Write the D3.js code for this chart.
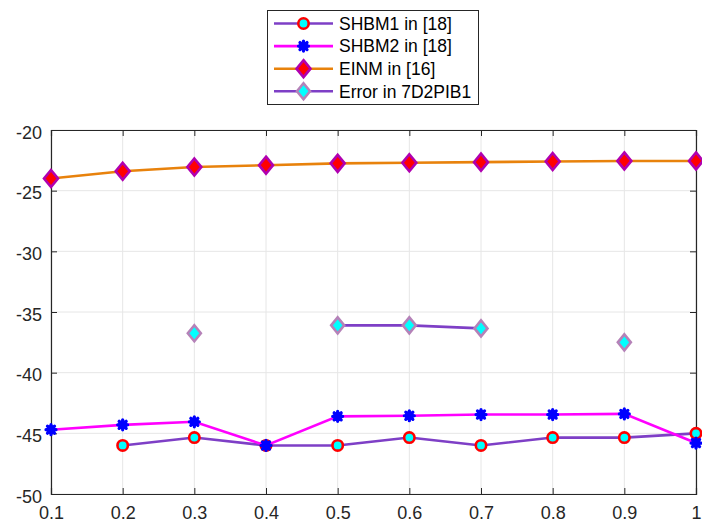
<!DOCTYPE html>
<html>
<head>
<meta charset="utf-8">
<script src="https://cdn.jsdelivr.net/npm/d3@7"></script>
<style>
  body { margin: 0; background: #fff; }
  svg { display: block; font-family: "Liberation Sans", Arial, sans-serif; }
</style>
</head>
<body>
<svg id="chart" width="702" height="524"></svg>
<script>
// x positions
const xValues = [0.1, 0.2, 0.3, 0.4, 0.5, 0.6, 0.7, 0.8, 0.9, 1];
const xTickLabels = ["0.1", "0.2", "0.3", "0.4", "0.5", "0.6", "0.7", "0.8", "0.9", "1"];
const yTicks = [-50, -45, -40, -35, -30, -25, -20];

// series (null = no point)
const shbm1 = [null, -46.0, -45.35, -46.0, -46.0, -45.35, -46.0, -45.35, -45.35, -45.0];
const shbm2 = [-44.7, -44.3, -44.05, -46.0, -43.6, -43.55, -43.45, -43.45, -43.4, -45.8];
const einm = [-24.0, -23.4, -23.05, -22.9, -22.75, -22.7, -22.65, -22.6, -22.55, -22.55];
const errorPib = [null, null, -36.75, null, -36.1, -36.1, -36.35, null, -37.5, null];

const seriesNames = ["SHBM1 in [18]", "SHBM2 in [18]", "EINM in [16]", "Error in 7D2PIB1"];

const svg = d3.select("#chart");
const margin = { left: 51, right: 6, top: 130, bottom: 30 };
const width = 702, height = 524;

const x = d3.scaleLinear().domain([0.1, 1]).range([margin.left, width - margin.right]);
const y = d3.scaleLinear().domain([-50, -20]).range([height - margin.bottom, margin.top]);

const axisColor = "#262626";
const gridColor = "#e6e6e6";

// grid
const grid = svg.append("g");
grid.selectAll(".gx").data(xValues).enter().append("line")
    .attr("x1", d => x(d)).attr("x2", d => x(d))
    .attr("y1", y(-50)).attr("y2", y(-20))
    .attr("stroke", gridColor).attr("stroke-width", 1);
grid.selectAll(".gy").data(yTicks).enter().append("line")
    .attr("x1", x(0.1)).attr("x2", x(1))
    .attr("y1", d => y(d)).attr("y2", d => y(d))
    .attr("stroke", gridColor).attr("stroke-width", 1);

// axes
const xAxis = d3.axisBottom(x).tickValues(xValues).tickSize(-6).tickPadding(12)
    .tickFormat((d, i) => xTickLabels[i]);
const yAxis = d3.axisLeft(y).tickValues(yTicks).tickSize(-6).tickPadding(9)
    .tickFormat(d => String(d));

const gx = svg.append("g").attr("transform", `translate(0,${y(-50)})`).call(xAxis);
const gy = svg.append("g").attr("transform", `translate(${x(0.1)},0)`).call(yAxis);
const gxTop = svg.append("g").attr("transform", `translate(0,${y(-20)})`)
    .call(d3.axisTop(x).tickValues(xValues).tickSize(-6).tickFormat(""));
const gyRight = svg.append("g").attr("transform", `translate(${x(1)},0)`)
    .call(d3.axisRight(y).tickValues(yTicks).tickSize(-6).tickFormat(""));

[gx, gy, gxTop, gyRight].forEach(g => {
  g.select(".domain").attr("stroke", axisColor).attr("stroke-width", 1.2);
  g.selectAll(".tick line").attr("stroke", axisColor).attr("stroke-width", 1);
  g.selectAll(".tick text").attr("fill", axisColor).style("font-size", "18px")
      .style("font-family", "'Liberation Sans', Arial, sans-serif");
});
gy.selectAll(".tick text").attr("dy", "0.45em");

// markers
function circleMarker(g, cx, cy) {
  g.append("circle").attr("cx", cx).attr("cy", cy).attr("r", 5.2)
      .attr("fill", "#00ffff").attr("stroke", "#ff0000").attr("stroke-width", 2.6);
}
function starMarker(g, cx, cy) {
  const r = 5;
  const path = d3.range(4).map(k => {
    const a = k * Math.PI / 4;
    return `M${cx - r * Math.cos(a)},${cy - r * Math.sin(a)}L${cx + r * Math.cos(a)},${cy + r * Math.sin(a)}`;
  }).join("");
  g.append("circle").attr("cx", cx).attr("cy", cy).attr("r", 4.6).attr("fill", "#0000ff");
  g.append("path").attr("d", path).attr("stroke", "#0000ff").attr("stroke-width", 3.2)
      .attr("stroke-linecap", "round");
}
function diamondMarker(edge, fill, hw, hh) {
  return (g, cx, cy) => {
    g.append("path")
        .attr("d", `M${cx},${cy - hh}L${cx + hw},${cy}L${cx},${cy + hh}L${cx - hw},${cy}Z`)
        .attr("fill", fill).attr("stroke", edge).attr("stroke-width", 2.6)
        .attr("stroke-linejoin", "miter");
  };
}

const series = [
  { name: seriesNames[0], values: shbm1, line: "#7e3fc6", marker: circleMarker },
  { name: seriesNames[1], values: shbm2, line: "#ff00ff", marker: starMarker },
  { name: seriesNames[2], values: einm, line: "#e8820c", marker: diamondMarker("#b000b0", "#ff0000", 7, 8.5) },
  { name: seriesNames[3], values: errorPib, line: "#7e3fc6", marker: diamondMarker("#b582b8", "#00ffff", 6.5, 8) }
];

const line = d3.line().defined(d => d.v !== null).x(d => x(d.x)).y(d => y(d.v));

series.forEach(s => {
  const pts = xValues.map((xv, i) => ({ x: xv, v: s.values[i] }));
  const g = svg.append("g");
  g.append("path").datum(pts).attr("d", line)
      .attr("fill", "none").attr("stroke", s.line).attr("stroke-width", 2.6);
  pts.filter(d => d.v !== null).forEach(d => s.marker(g, x(d.x), y(d.v)));
});

// legend
const legend = svg.append("g");
legend.append("rect").attr("x", 267.5).attr("y", 10.5).attr("width", 211).attr("height", 94)
    .attr("fill", "#fff").attr("stroke", axisColor).attr("stroke-width", 1);
series.forEach((s, i) => {
  const cy = 23.5 + i * 22.6;
  legend.append("line").attr("x1", 274).attr("x2", 333).attr("y1", cy).attr("y2", cy)
      .attr("stroke", s.line).attr("stroke-width", 2.6);
  s.marker(legend, 303.5, cy);
  legend.append("text").attr("x", 339).attr("y", cy).attr("dy", "0.36em")
      .style("font-size", "17.5px").attr("fill", "#000").text(s.name);
});
</script>
</body>
</html>
